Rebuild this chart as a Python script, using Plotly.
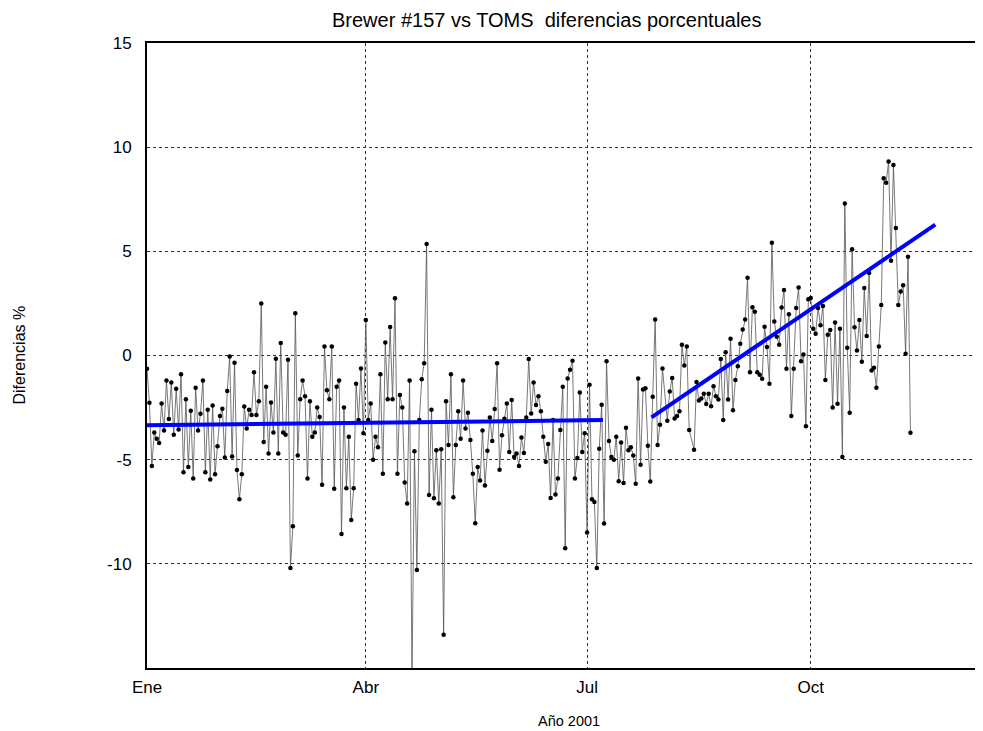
import plotly.graph_objects as go

# Day of year (0 = 1 Jan 2001) and percentage differences Brewer #157 vs TOMS
days = (
    list(range(0, 27)) + list(range(27, 54)) + list(range(54, 80)) + list(range(80, 106))
    + list(range(106, 133)) + list(range(133, 160)) + list(range(160, 186)) + list(range(186, 213))
    + [214, 215, 216, 217, 218, 219, 220, 221, 222, 223, 225, 226, 227, 228, 229, 230, 231,
       232, 233, 234, 235, 236, 237, 238, 239]
    + list(range(240, 266)) + list(range(266, 293)) + list(range(293, 315))
)

values = [
    # Jan
    -0.63, -2.27, -5.3, -3.7, -4.0, -4.2, -2.3, -3.6, -1.2, -3.05, -1.3, -3.8, -1.6, -3.55,
    -0.9, -5.6, -2.1, -5.35, -2.65, -5.9, -1.55, -3.6, -2.8, -1.2, -5.6, -2.6, -5.95,
    # Feb
    -2.4, -5.7, -4.35, -2.9, -2.55, -4.9, -1.7, -0.05, -4.85, -0.35, -5.5, -6.9, -5.7, -2.45,
    -3.5, -2.6, -2.85, -0.8, -2.85, -2.2, 2.5, -4.15, -1.5, -4.7, -2.25, -3.7, -0.15,
    # Mar
    -4.7, 0.6, -3.7, -3.8, -0.2, -10.2, -8.2, 2.03, -4.8, -2.1, -1.2, -1.95, -5.9, -2.2,
    -3.9, -3.7, -2.5, -2.95, -6.2, 0.43, -1.67, -2.1, 0.43, -6.4, -1.5, -1.2,
    # Mar/Apr
    -8.57, -2.5, -6.37, -3.9, -7.9, -6.37, -1.35, -3.1, -0.62, -3.73, 1.7, -3.1, -2.3, -5.0,
    -3.9, -4.4, -0.9, -5.67, 0.63, -2.1, 1.37, -2.1, 2.75, -5.67, -1.9, -2.5,
    # Apr/May
    -6.1, -7.1, -1.2, -15.5, -4.6, -10.3, -3.1, -1.14, -0.37, 5.35, -6.7, -2.6, -6.85, -4.55,
    -7.1, -4.5, -13.4, -2.2, -4.3, -0.9, -6.8, -4.3, -2.67, -4.0, -1.2, -3.5, -2.75,
    # May/Jun
    -4.05, -5.67, -8.05, -5.35, -6.0, -3.6, -6.24, -4.57, -2.97, -4.1, -2.57, -0.37, -5.48,
    -3.83, -3.03, -2.3, -4.63, -2.14, -4.87, -4.7, -5.3, -3.94, -4.68, -2.98, -0.17, -2.78, -1.3,
    # Jun/Jul
    -2.38, -1.95, -2.68, -3.9, -5.1, -4.25, -6.84, -3.1, -6.67, -5.9, -3.57, -1.5, -9.25, -1.1,
    -0.68, -0.25, -5.9, -4.92, -1.78, -4.63, -3.73, -8.5, -1.4, -6.9, -7.03, -10.2,
    # Jul
    -4.48, -2.36, -8.06, -0.27, -4.1, -4.87, -5.0, -3.9, -6.04, -4.17, -6.12, -3.47, -4.55,
    -4.4, -4.8, -6.15, -1.1, -5.24, -1.63, -1.57, -4.33, -6.05, -1.98, 1.73, -4.3, -3.32, -0.62,
    # Aug
    -3.13, -1.73, -1.08, -3.02, -2.9, -2.68, 0.52, -0.48, 0.43, -3.57, -4.52, -1.27, -2.16,
    -2.06, -1.84, -2.33, -1.84, -2.43, -1.48, -1.95, -2.11, -0.17, -3.1, 0.16, -2.11,
    # Aug/Sep
    0.8, -2.63, -1.17, -0.52, 0.57, 1.25, 1.73, 3.73, -0.8, 2.32, 2.1, -0.8, -0.92, -1.11,
    1.38, 0.41, -1.35, 5.41, 1.63, 0.9, 0.52, 2.3, 3.14, -0.63, 1.98, -2.9,
    # Sep/Oct
    -0.64, 2.28, 3.27, -0.27, 0.05, -3.39, 2.7, 2.76, 1.28, 1.04, 2.28, 1.45, 2.38, -1.17,
    1.0, 1.23, -2.49, 1.58, -2.32, 1.29, -4.87, 7.3, 0.37, -2.75, 5.1, 1.36, 0.24,
    # Oct/Nov
    1.71, -0.3, 3.24, 0.94, 3.96, -0.72, -0.59, -1.55, 0.43, 2.43, 8.51, 8.29, 9.31, 4.55,
    9.15, 6.12, 2.43, 3.07, 3.37, 0.08, 4.74, -3.71,
]

# Linear trend segments (endpoints)
trend1_days = [0, 187.5]
trend1_values = [-3.35, -3.1]
trend2_days = [207.5, 324.2]
trend2_values = [-2.97, 6.28]

tick_days = [0, 90, 181, 273]
tick_labels = ["Ene", "Abr", "Jul", "Oct"]
y_ticks = [-10, -5, 0, 5, 10, 15]
y_tick_labels = ["-10", "-5", "0", "5", "10", "15"]

font = "Liberation Sans, Arial, sans-serif"

fig = go.Figure()
fig.add_trace(go.Scatter(
    x=days, y=values, mode="lines+markers",
    line=dict(color="#555555", width=0.8),
    marker=dict(color="black", size=4.5),
    showlegend=False,
))
fig.add_trace(go.Scatter(
    x=trend1_days, y=trend1_values, mode="lines",
    line=dict(color="#0000ff", width=4), showlegend=False,
))
fig.add_trace(go.Scatter(
    x=trend2_days, y=trend2_values, mode="lines",
    line=dict(color="#0000ff", width=4), showlegend=False,
))

fig.update_layout(
    width=975, height=723,
    margin=dict(l=139, r=1, t=35, b=63),
    paper_bgcolor="white", plot_bgcolor="white",
    font=dict(family=font, color="black"),
    annotations=[
        dict(text="Brewer #157 vs TOMS  diferencias porcentuales",
             xref="paper", yref="paper", x=0.479, y=1.0, yshift=23,
             showarrow=False, font=dict(size=20, family=font), xanchor="center", yanchor="middle"),
        dict(text="Año 2001", xref="paper", yref="paper", x=0.507, y=0, yshift=-53,
             showarrow=False, font=dict(size=14.5, family=font), xanchor="center", yanchor="middle"),
        dict(text="Diferencias %", xref="paper", yref="paper", x=0, xshift=-128, y=0.5,
             textangle=-90, showarrow=False, font=dict(size=16, family=font),
             xanchor="center", yanchor="middle"),
    ],
)
fig.update_xaxes(
    range=[0, 342.6], tickmode="array", tickvals=tick_days, ticktext=tick_labels,
    showgrid=True, gridcolor="#333333", griddash="dot", gridwidth=1,
    showline=True, linecolor="black", linewidth=2, mirror=True,
    ticks="", tickfont=dict(size=17, family=font), zeroline=False,
    ticklabelstandoff=3,
)
fig.update_yaxes(
    range=[-15, 15], tickmode="array", tickvals=y_ticks, ticktext=y_tick_labels,
    showgrid=True, gridcolor="#333333", griddash="dot", gridwidth=1,
    showline=True, linecolor="black", linewidth=2, mirror=True,
    ticks="", ticklen=0, tickfont=dict(size=17, family=font), zeroline=False,
    ticklabelstandoff=10,
)

fig.write_html("out.html")
